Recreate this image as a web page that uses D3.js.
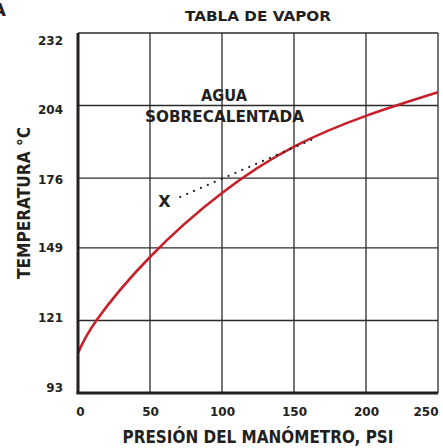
<!DOCTYPE html>
<html>
<head>
<meta charset="utf-8">
<script src="https://cdn.jsdelivr.net/npm/d3@7"></script>
<style>
  body { margin: 0; background: #fff; }
  text { font-family: "DejaVu Sans", sans-serif; font-weight: bold; fill: #231f20; }
</style>
</head>
<body>
<div id="chart"></div>
<script>
// values
const psiTicks = [0, 50, 100, 150, 200, 250];
const tempTicks = [93, 121, 149, 176, 204, 232];

// saturation curve (psi, °C)
const curvePsi = [0, 13, 50, 100, 150, 200, 250];
const curveTemp = [108.4, 121.2, 145.5, 170.2, 188.1, 200.0, 209.1];

// dotted path from X into superheated area
const dotPsi = [71, 162];
const dotTemp = [168.7, 190.7];

const W = 443, H = 448;
const m = { top: 33, right: 5, bottom: 55, left: 78 };

const svg = d3.select("#chart").append("svg")
    .attr("width", W)
    .attr("height", H);

const g = svg.append("g")
    .attr("transform", `translate(${m.left}, ${m.top})`);

const x = d3.scaleLinear().domain([0, 250]).range([0, 360]);
const y = d3.scaleLinear().domain([93, 232]).range([360, 0]);

// grid
g.append("g")
    .selectAll("line")
    .data(psiTicks.slice(1))
    .join("line")
        .attr("x1", d => x(d)).attr("x2", d => x(d))
        .attr("y1", 0).attr("y2", 360)
        .attr("stroke", "#2b2b2b")
        .attr("stroke-width", 1.3);

g.append("g")
    .selectAll("line")
    .data(tempTicks.slice(1))
    .join("line")
        .attr("x1", 0).attr("x2", 360)
        .attr("y1", d => y(d)).attr("y2", d => y(d))
        .attr("stroke", "#2b2b2b")
        .attr("stroke-width", 1.3);

// saturation curve
const pts = curvePsi.map((p, i) => [p, curveTemp[i]]);
g.append("path")
    .datum(pts)
    .attr("fill", "none")
    .attr("stroke", "#c8202a")
    .attr("stroke-width", 2.6)
    .attr("d", d3.line().x(d => x(d[0])).y(d => y(d[1])).curve(d3.curveNatural));

// thick axes (left, bottom)
g.append("line")
    .attr("x1", 0).attr("x2", 0).attr("y1", 0).attr("y2", 361)
    .attr("stroke", "#231f20").attr("stroke-width", 3);
g.append("line")
    .attr("x1", -1.5).attr("x2", 360).attr("y1", 360).attr("y2", 360)
    .attr("stroke", "#231f20").attr("stroke-width", 3);

// dotted line, gap stretched so a dot lands on both ends
const dots = g.append("line")
    .attr("x1", x(dotPsi[0])).attr("y1", y(dotTemp[0]))
    .attr("x2", x(dotPsi[1])).attr("y2", y(dotTemp[1]))
    .attr("stroke", "#231f20")
    .attr("stroke-width", 2.2)
    .attr("stroke-linecap", "round");
const len = Math.hypot(x(dotPsi[1]) - x(dotPsi[0]), y(dotTemp[1]) - y(dotTemp[0]));
dots.attr("stroke-dasharray", `0 ${len / Math.round(len / 7.6)}`);

// tick labels
const xAxis = d3.axisBottom(x).tickValues(psiTicks).tickSize(0).tickPadding(0);
g.append("g")
    .attr("transform", `translate(0, 360)`)
    .call(xAxis)
    .call(s => s.select(".domain").remove())
    .selectAll("text")
        .attr("y", 0)
        .attr("dy", 23)
        .attr("x", (d, i) => i == 0 ? 2 : 0)
        .attr("text-anchor", (d, i) => i == psiTicks.length - 1 ? "end" : "middle")
        .attr("font-size", "12px")
        .attr("font-family", "Liberation Sans, Arial, sans-serif")
        .attr("font-weight", "bold")
        .attr("fill", "#231f20");

// labels drift a little off the grid lines, as in the print
const yAxis = d3.axisLeft(y).tickValues(tempTicks).tickSize(0).tickPadding(15);
g.append("g")
    .call(yAxis)
    .call(s => s.select(".domain").remove())
    .selectAll("text")
        .attr("dy", (d, i) => -2 + 2.6 * i)
        .attr("font-size", "12px")
        .attr("font-family", "Liberation Sans, Arial, sans-serif")
        .attr("font-weight", "bold")
        .attr("fill", "#231f20");

// titles
svg.append("text")
    .attr("x", 258).attr("y", 21)
    .attr("text-anchor", "middle")
    .attr("font-size", "14.5px")
    .attr("textLength", 146)
    .attr("lengthAdjust", "spacingAndGlyphs")
    .text("TABLA DE VAPOR");

svg.append("text")
    .attr("x", -8).attr("y", 16)
    .attr("font-size", "18px")
    .text("A");

svg.append("text")
    .attr("x", 258).attr("y", 443)
    .attr("text-anchor", "middle")
    .attr("font-size", "17px")
    .attr("textLength", 271)
    .attr("lengthAdjust", "spacingAndGlyphs")
    .text("PRESIÓN DEL MANÓMETRO, PSI");

svg.append("text")
    .attr("transform", "translate(30, 203) rotate(-90)")
    .attr("text-anchor", "middle")
    .attr("font-size", "17px")
    .attr("textLength", 152)
    .attr("lengthAdjust", "spacingAndGlyphs")
    .text("TEMPERATURA °C");

svg.append("text")
    .attr("x", 224).attr("y", 101)
    .attr("text-anchor", "middle")
    .attr("font-size", "15px")
    .attr("textLength", 46)
    .attr("lengthAdjust", "spacingAndGlyphs")
    .text("AGUA");

svg.append("text")
    .attr("x", 224.5).attr("y", 122)
    .attr("text-anchor", "middle")
    .attr("font-size", "15px")
    .attr("textLength", 159)
    .attr("lengthAdjust", "spacingAndGlyphs")
    .text("SOBRECALENTADA");

svg.append("text")
    .attr("x", 164.5).attr("y", 207)
    .attr("text-anchor", "middle")
    .attr("font-size", "16px")
    .text("X");
</script>
</body>
</html>
